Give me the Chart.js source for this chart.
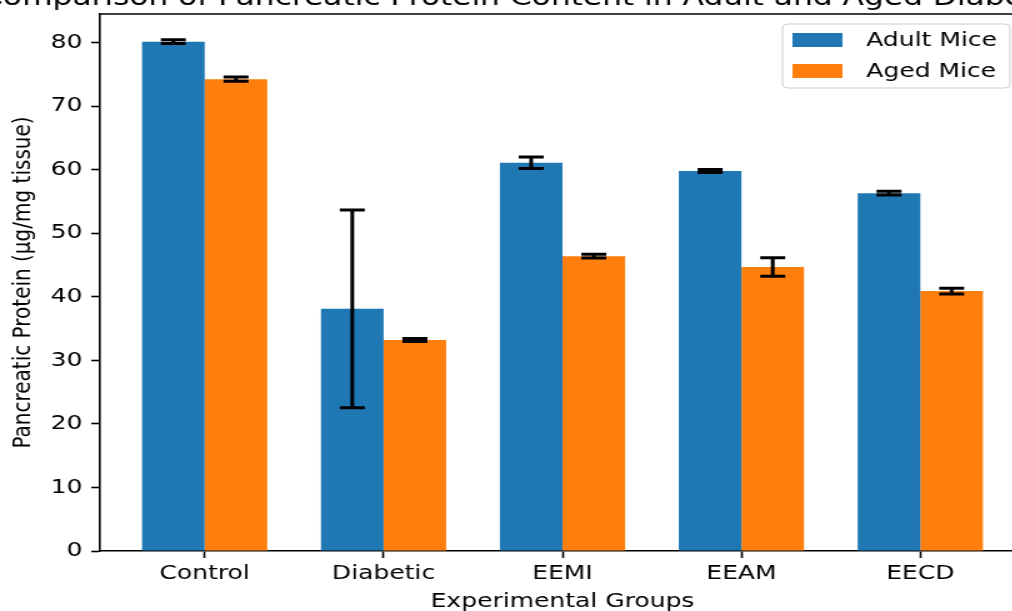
<!DOCTYPE html>
<html>
<head>
<meta charset="utf-8">
<script src="https://cdn.jsdelivr.net/npm/chart.js"></script>
<style>
html, body { margin: 0; padding: 0; background: #fff; overflow: hidden; }
/* the source picture is stretched sideways, so draw narrow and stretch it */
#wrap { width: 832px; height: 625px; position: relative; transform: scaleX(1.25); transform-origin: 0 0; }
</style>
</head>
<body>
<div id="wrap"><canvas id="myChart"></canvas></div>
<script>
var chartTitle = "Comparison of Pancreatic Protein Content in Adult and Aged Diabetic Mice";
var groups = ["Control", "Diabetic", "EEMI", "EEAM", "EECD"];
var adultMice = [80.15, 38.1, 61.1, 59.8, 56.3];
var adultErr  = [0.3, 15.55, 0.9, 0.25, 0.3];
var agedMice  = [74.25, 33.2, 46.4, 44.7, 40.9];
var agedErr   = [0.35, 0.25, 0.3, 1.45, 0.45];
var yTicks = [0, 10, 20, 30, 40, 50, 60, 70, 80];

var FONT = "'DejaVu Sans', sans-serif";

function points(vals) {
    return groups.map(function (g, i) { return { x: i, y: vals[i] }; });
}

// error bars, drawn from the same arrays through the y scale
var errorBars = {
    id: 'errorBars',
    afterDatasetsDraw: function (chart) {
        var ctx = chart.ctx;
        var ys = chart.scales.y;
        var errs = [adultErr, agedErr];
        var vals = [adultMice, agedMice];
        ctx.save();
        ctx.strokeStyle = '#000';
        ctx.lineWidth = 3;
        for (var d = 0; d < 2; d++) {
            var meta = chart.getDatasetMeta(d);
            meta.data.forEach(function (bar, i) {
                var top = ys.getPixelForValue(vals[d][i] + errs[d][i]);
                var bot = ys.getPixelForValue(vals[d][i] - errs[d][i]);
                ctx.beginPath();
                ctx.moveTo(bar.x, top); ctx.lineTo(bar.x, bot);
                ctx.moveTo(bar.x - 10, top); ctx.lineTo(bar.x + 10, top);
                ctx.moveTo(bar.x - 10, bot); ctx.lineTo(bar.x + 10, bot);
                ctx.stroke();
            });
        }
        ctx.restore();
    }
};

// top/right spines, cut-off title, legend inside the axes
var frame = {
    id: 'frame',
    afterDraw: function (chart) {
        var ctx = chart.ctx;
        var a = chart.chartArea;
        ctx.save();
        ctx.strokeStyle = '#000';
        ctx.lineWidth = 1.6;
        ctx.beginPath();
        ctx.moveTo(a.left, a.top); ctx.lineTo(a.right, a.top); ctx.lineTo(a.right, a.bottom);
        ctx.stroke();

        ctx.fillStyle = '#000';
        ctx.font = "25px " + FONT;
        ctx.textAlign = 'center';
        ctx.textBaseline = 'alphabetic';
        ctx.fillText(chartTitle, (a.left + a.right) / 2, 5);

        // legend box
        var bw = 182, bh = 64;
        var bx = a.right - 12 - bw, by = a.top + 10;
        ctx.fillStyle = 'rgba(255,255,255,0.8)';
        ctx.strokeStyle = '#cccccc';
        ctx.lineWidth = 1;
        ctx.beginPath();
        ctx.roundRect(bx, by, bw, bh, 4);
        ctx.fill();
        ctx.stroke();
        ctx.font = "20px " + FONT;
        ctx.textAlign = 'left';
        ctx.textBaseline = 'middle';
        chart.data.datasets.forEach(function (ds, k) {
            var cy = by + 16 + k * 31;
            ctx.fillStyle = ds.backgroundColor;
            ctx.fillRect(bx + 8, cy - 7, 40, 14);
            ctx.fillStyle = '#000';
            ctx.fillText(ds.label, bx + 67, cy + 1);
        });
        ctx.restore();
    }
};

var ctx = document.getElementById("myChart").getContext('2d');
var myChart = new Chart(ctx, {
    type: 'bar',
    data: {
        datasets: [
            { label: "Adult Mice", data: points(adultMice), backgroundColor: "#1f77b4", borderWidth: 0 },
            { label: "Aged Mice", data: points(agedMice), backgroundColor: "#ff7f0e", borderWidth: 0 }
        ]
    },
    options: {
        responsive: true,
        maintainAspectRatio: false,
        animation: false,
        layout: { padding: { left: 0, right: 12, top: 14, bottom: 0 } },
        categoryPercentage: 0.7,
        barPercentage: 1.0,
        plugins: {
            legend: { display: false },
            title: { display: false },
            tooltip: { enabled: false }
        },
        scales: {
            x: {
                type: 'linear',
                min: -0.585,
                max: 4.585,
                offset: false,
                afterBuildTicks: function (axis) {
                    axis.ticks = groups.map(function (g, i) { return { value: i }; });
                },
                afterFit: function (axis) {
                    axis.height = 74;
                    axis.paddingLeft = 0;
                    axis.paddingRight = 0;
                },
                ticks: {
                    autoSkip: false,
                    maxRotation: 0,
                    padding: 4,
                    color: '#000',
                    font: { family: FONT, size: 20 },
                    callback: function (v) { return groups[v]; }
                },
                grid: { drawOnChartArea: false, offset: false, tickLength: 7, tickColor: '#000', tickWidth: 1.6 },
                border: { display: true, color: '#000', width: 1.6 },
                title: {
                    display: true,
                    text: "Experimental Groups",
                    color: '#000',
                    font: { family: FONT, size: 20 },
                    padding: { top: 0, bottom: 11 }
                }
            },
            y: {
                min: 0,
                max: 84.5,
                afterBuildTicks: function (axis) {
                    axis.ticks = yTicks.map(function (v) { return { value: v }; });
                },
                afterFit: function (axis) {
                    axis.width = 80;
                    axis.paddingTop = 0;
                    axis.paddingBottom = 0;
                },
                ticks: {
                    padding: 7,
                    color: '#000',
                    font: { family: FONT, size: 20 }
                },
                grid: { drawOnChartArea: false, tickLength: 7, tickColor: '#000', tickWidth: 1.6 },
                border: { display: true, color: '#000', width: 1.6 },
                title: {
                    display: true,
                    text: "Pancreatic Protein (µg/mg tissue)",
                    color: '#000',
                    font: { family: FONT, size: 20 },
                    padding: { top: 7, bottom: 0 }
                }
            }
        }
    },
    plugins: [errorBars, frame]
});
</script>
</body>
</html>
